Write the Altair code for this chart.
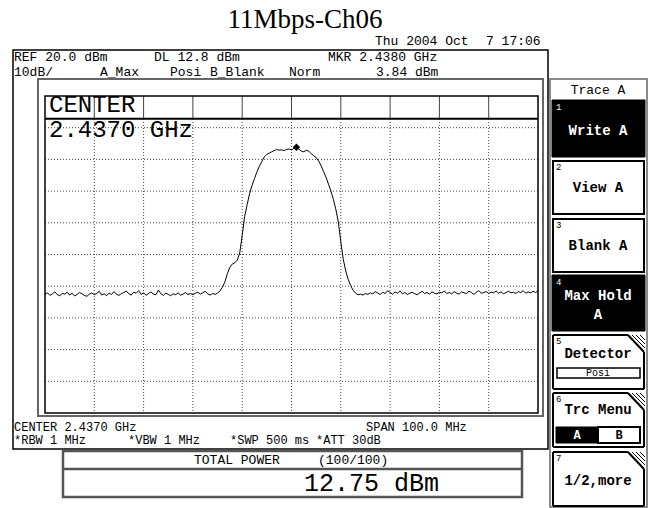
import altair as alt
import pandas as pd

TITLE = "11Mbps-Ch06"
SWEEP_START_MHZ = 2387.0
SWEEP_STEP_MHZ = 0.5

left_noise_dbm = [
    -42.6, -42.1, -42.9, -42.4, -41.8, -42.7, -43.0, -42.3, -42.5, -41.9,
    -42.8, -42.2, -43.1, -42.6, -42.0, -42.4, -42.9, -43.2, -42.5, -42.1,
    -42.7, -42.3, -41.6, -42.8, -42.4, -43.0, -42.2, -42.6, -41.7, -42.5,
    -42.9, -42.3, -42.0, -41.5, -42.4, -42.8, -41.9, -42.2, -41.4, -42.6,
    -42.1, -42.9, -42.3, -41.8, -42.5, -42.7, -41.2, -42.4, -42.9, -42.2,
    -42.6, -43.0, -42.4, -42.7, -42.1, -42.8, -42.5, -42.0, -42.6, -42.3,
    -42.7, -42.2, -41.9, -42.5, -42.1, -41.6, -42.4, -42.8, -42.3, -42.6,
    -42.2,
]
signal_dbm = [
    -41.5, -40.3, -38.6, -36.0, -34.0, -33.0, -32.6, -31.8, -29.5, -24.0,
    -18.0, -14.3, -10.8, -8.2, -6.0, -3.9, -2.1, -0.6, 0.8, 1.6,
    2.0, 2.4, 2.8, 3.1, 2.9, 3.0, 2.8, 3.1, 3.3, 3.0,
    3.5, 3.84, 3.2, 2.6, 2.4, 2.9, 2.6, 1.8, 1.2, 0.6,
    -0.5, -2.0, -3.8, -5.6, -7.8, -10.0, -12.6, -15.8, -19.8, -26.0,
    -31.5, -35.2, -37.8, -39.8, -41.3, -42.2, -42.7,
]
right_noise_dbm = [
    -42.5, -42.8, -42.3, -42.6, -42.1, -42.4, -41.7, -42.2, -42.6, -41.9,
    -42.3, -41.4, -42.0, -42.5, -41.8, -42.2, -41.5, -42.4, -42.0, -42.6,
    -42.2, -41.9, -42.4, -42.7, -42.1, -41.6, -42.3, -42.0, -42.5, -41.8,
    -42.2, -42.4, -41.9, -42.1, -41.5, -42.3, -42.0, -42.4, -41.7, -42.2,
    -42.5, -41.8, -42.1, -42.3, -41.6, -42.0, -42.6, -41.9, -41.4, -42.2,
    -42.0, -41.7, -42.3, -41.9, -42.1, -41.5, -42.2, -41.8, -42.4, -42.0,
    -41.6, -42.1, -41.9, -42.3, -41.7, -42.0, -41.4, -42.2, -41.8, -42.1,
    -41.6, -42.0, -41.5,
]
grid_freqs_mhz = [2397, 2407, 2417, 2427, 2437, 2447, 2457, 2467, 2477]
grid_levels_dbm = [10, 0, -10, -20, -30, -40, -50, -60, -70]
display_line_dbm = [12.8]
marker_freq_mhz = [2438.0]
marker_level_dbm = [3.84]
freq_span_mhz = [2387, 2487]
level_span_dbm = [-80, 20]

levels = left_noise_dbm + signal_dbm + right_noise_dbm
freqs = [SWEEP_START_MHZ + i * SWEEP_STEP_MHZ for i in range(len(levels))]
trace = pd.DataFrame({"f": freqs, "dbm": levels})

# ---------------- layout ----------------
W, H = 648, 508
GX0, GX1, GY0, GY1 = 45, 538, 96, 413
MONO = "Liberation Mono"

xscale = alt.Scale(domain=freq_span_mhz, range=[GX0, GX1])
yscale = alt.Scale(domain=level_span_dbm, range=[GY1, GY0])

base = alt.Chart(pd.DataFrame({"k": [0]}))


def txt(s, x, y, size=13, align="left", color="black", font=MONO, weight="normal"):
    return base.mark_text(text=s, align=align, baseline="middle", fontSize=size,
                          font=font, fontWeight=weight, color=color).encode(
        x=alt.value(x), y=alt.value(y))


def box(x1, y1, x2, y2, fill="white", stroke="black", sw=1.0, fo=1.0):
    return base.mark_rect(fill=fill, fillOpacity=fo, stroke=stroke, strokeWidth=sw).encode(
        x=alt.value(x1), x2=alt.value(x2), y=alt.value(y1), y2=alt.value(y2))


def seg(x1, y1, x2, y2, color="black", sw=1.0):
    return base.mark_rule(color=color, strokeWidth=sw).encode(
        x=alt.value(x1), y=alt.value(y1), x2=alt.value(x2), y2=alt.value(y2))


layers = []

# title
layers.append(txt(TITLE, 305, 20, size=27, align="center", font="Liberation Serif"))
layers.append(txt("Thu 2004 Oct", 375, 41))
layers.append(txt("7 17:06", 486, 41))

# frames
layers.append(box(13, 50, 548, 449, fo=0, stroke="black", sw=1.5))
layers.append(box(38, 79, 543, 416, fo=0, stroke="#666666", sw=2))

# header texts
layers += [
    txt("REF 20.0 dBm", 14, 57), txt("DL 12.8 dBm", 154, 57), txt("MKR 2.4380 GHz", 328, 57),
    txt("10dB/", 14, 72), txt("A_Max", 100, 72), txt("Posi", 170, 72),
    txt("B_Blank", 210, 72), txt("Norm", 289, 72), txt("3.84 dBm", 376, 72),
]

# grid
gridv = alt.Chart(pd.DataFrame({"f": grid_freqs_mhz}))
layers.append(gridv.mark_rule(color="#444444", strokeWidth=1, strokeDash=[1, 2]).encode(
    x=alt.X("f:Q", scale=xscale, axis=None), y=alt.value(119), y2=alt.value(GY1)))
layers.append(gridv.mark_rule(color="#444444", strokeWidth=1).encode(
    x=alt.X("f:Q", scale=xscale, axis=None), y=alt.value(GY0), y2=alt.value(119)))
layers.append(alt.Chart(pd.DataFrame({"lv": grid_levels_dbm})).mark_rule(
    color="#444444", strokeWidth=1, strokeDash=[1, 2]).encode(
    y=alt.Y("lv:Q", scale=yscale, axis=None), x=alt.value(GX0), x2=alt.value(GX1)))
layers.append(box(GX0, GY0, GX1, GY1, fo=0, stroke="black", sw=1.5))
layers.append(alt.Chart(pd.DataFrame({"lv": display_line_dbm})).mark_rule(
    color="black", strokeWidth=2).encode(
    y=alt.Y("lv:Q", scale=yscale, axis=None), x=alt.value(GX0), x2=alt.value(GX1)))

# CENTER annotation
layers.append(txt("CENTER", 49, 105, size=24))
layers.append(txt("2.4370 GHz", 49, 130, size=24))

# trace + marker
layers.append(alt.Chart(trace).mark_line(color="black", strokeWidth=1).encode(
    x=alt.X("f:Q", scale=xscale, axis=None), y=alt.Y("dbm:Q", scale=yscale, axis=None)))
layers.append(alt.Chart(pd.DataFrame({"f": marker_freq_mhz, "dbm": marker_level_dbm})).mark_point(
    shape="diamond", filled=True, color="black", size=55, opacity=1).encode(
    x=alt.X("f:Q", scale=xscale, axis=None), y=alt.Y("dbm:Q", scale=yscale, axis=None)))

# bottom texts
layers += [
    txt("CENTER 2.4370 GHz", 14, 427, size=12), txt("SPAN 100.0 MHz", 366, 427, size=12),
    txt("*RBW 1 MHz", 14, 440, size=12), txt("*VBW 1 MHz", 128, 440, size=12),
    txt("*SWP 500 ms", 230, 440, size=12), txt("*ATT 30dB", 316, 440, size=12),
]

# total power box
layers.append(box(63, 451, 522, 497, fo=0, stroke="#555555", sw=2.5))
layers.append(seg(63, 469, 522, 469, color="#555555", sw=2.5))
layers.append(txt("TOTAL POWER", 194, 460))
layers.append(txt("(100/100)", 318, 460))
layers.append(txt("12.75 dBm", 304, 483, size=25))

# right soft-key panel
PX0, PX1 = 552, 645
CX = 598
layers.append(box(550, 79, 647, 507, fo=0, stroke="#666666", sw=1.5))
layers.append(txt("Trace A", CX, 90, align="center", size=13))

BF = 14
# 1 Write A
layers.append(box(PX0, 100, PX1, 157, fill="black", stroke="black"))
layers.append(txt("1", 556, 107, size=9, color="white"))
layers.append(txt("Write A", CX, 131, align="center", size=BF, color="white", weight="bold"))
# 2 View A
layers.append(box(PX0 + 1, 161, PX1 - 1, 214, stroke="black", sw=2))
layers.append(txt("2", 556, 167, size=9))
layers.append(txt("View A", CX, 188, align="center", size=BF, weight="bold"))
# 3 Blank A
layers.append(box(PX0 + 1, 219, PX1 - 1, 272, stroke="black", sw=2))
layers.append(txt("3", 556, 225, size=9))
layers.append(txt("Blank A", CX, 246, align="center", size=BF, weight="bold"))
# 4 Max Hold A
layers.append(box(PX0, 275, PX1, 331, fill="black", stroke="black"))
layers.append(txt("4", 556, 282, size=9, color="white"))
layers.append(txt("Max Hold", CX, 296, align="center", size=BF, color="white", weight="bold"))
layers.append(txt("A", CX, 315, align="center", size=BF, color="white", weight="bold"))


def cut_button(y0, y1):
    out = [
        seg(PX0 + 1, y0, 628, y0, sw=2),
        seg(628, y0, PX1 - 1, y0 + 17, sw=2),
        seg(PX1 - 1, y0 + 17, PX1 - 1, y1, sw=2),
        seg(PX0 + 1, y0, PX0 + 1, y1, sw=2),
        seg(PX0 + 1, y1, PX1 - 1, y1, sw=2),
    ]
    for d in (4, 8, 12):
        out.append(seg(628 + d, y0, PX1, y0 + 17 - d, sw=1))
    return out


# 5 Detector
layers += cut_button(335, 389)
layers.append(txt("5", 556, 341, size=9))
layers.append(txt("Detector", CX, 354, align="center", size=BF, weight="bold"))
layers.append(box(557, 368, 640, 378, fo=0, stroke="black", sw=1.5))
layers.append(txt("Posi", CX, 373, align="center", size=10))
# 6 Trc Menu
layers += cut_button(393, 447)
layers.append(txt("6", 556, 399, size=9))
layers.append(txt("Trc Menu", CX, 410, align="center", size=BF, weight="bold"))
layers.append(box(556, 427, 598, 443, fill="black", stroke="black"))
layers.append(box(598, 427, 640, 443, stroke="black", sw=2))
layers.append(txt("A", 577, 435, align="center", size=12, color="white", weight="bold"))
layers.append(txt("B", 619, 435, align="center", size=12, weight="bold"))
# 7 1/2,more
layers += cut_button(452, 506)
layers.append(txt("7", 556, 458, size=9))
layers.append(txt("1/2,more", CX, 481, align="center", size=BF, weight="bold"))

chart = alt.layer(*layers).properties(
    width=W, height=H, padding=0, background="white",
    autosize=alt.AutoSizeParams(type="none"),
).configure_view(stroke="transparent")

chart.save("out.html", embed_options={"renderer": "svg", "actions": False})
